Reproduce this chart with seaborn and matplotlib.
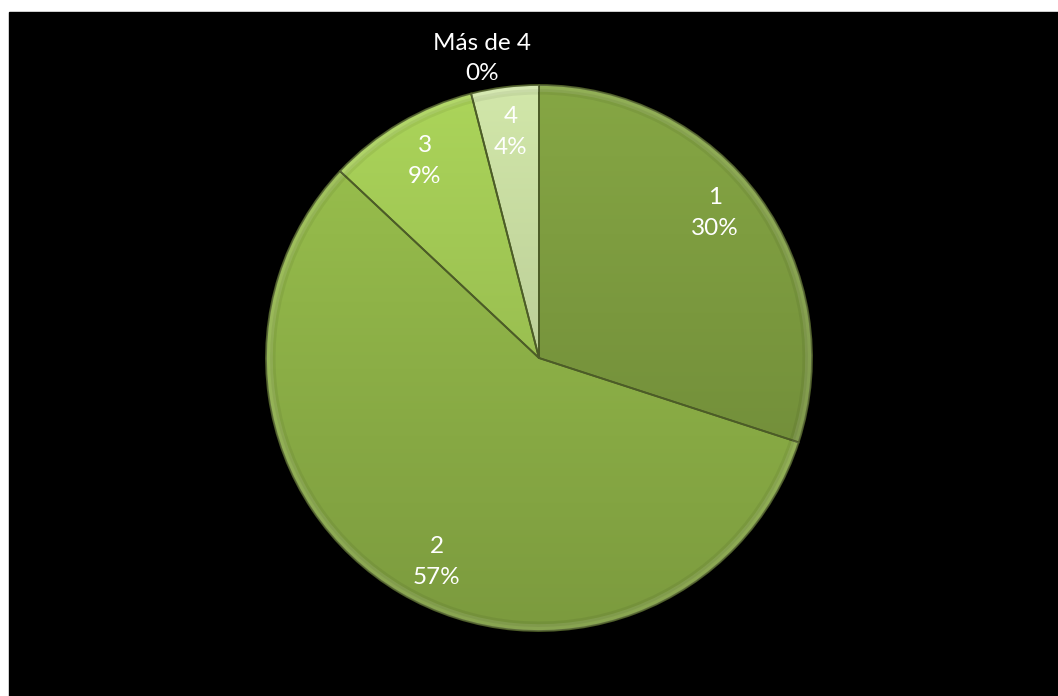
import numpy as np
import matplotlib
matplotlib.use("Agg")
import matplotlib.pyplot as plt
from matplotlib.patches import Rectangle, Wedge
from matplotlib.colors import to_rgb
import seaborn as sns

# Number of items per response
categories = ["1", "2", "3", "4", "Más de 4"]
shares = [30, 57, 9, 4, 0]
pct_labels = ["30%", "57%", "9%", "4%", "0%"]
slice_colors = ["#7E9D40", "#93B84A", "#A2C955", "#C6DAA0", "#D7E4BD"]
label_nudge_deg = [3.5, 4.0, -0.5, 0.0, 0.0]

sns.set_theme(style="white")
plt.rcParams["font.family"] = ["Lato", "DejaVu Sans"]

W, H = 1058, 696
fig = plt.figure(figsize=(W / 100, H / 100), dpi=100, facecolor="white")

# black panel behind the chart
fig.add_artist(Rectangle((9 / W, 0), (W - 9) / W, (H - 12) / H,
                         transform=fig.transFigure, color="black", zorder=0))

ax = fig.add_axes([0, 0, 1, 1])
ax.set_facecolor("none")

cx, cy, R = 539, H - 358, 273
wedges, _ = ax.pie(shares, colors=slice_colors, startangle=90, counterclock=False,
                   radius=1.0,
                   wedgeprops=dict(edgecolor="none", linewidth=0))

# vertical shading inside each slice: lighter at the top, darker at the bottom
ys = np.linspace(1, -1, 256)
shade = np.interp(ys, [-1, 1], [0.84, 1.06])
for w, col in zip(wedges, slice_colors):
    if w.theta2 - w.theta1 <= 0:
        continue
    rgb = np.clip(np.array(to_rgb(col))[None, :] * shade[:, None], 0, 1)
    img = np.repeat(rgb[:, None, :], 2, axis=1)
    im = ax.imshow(img, extent=(-1, 1, -1, 1), origin="upper", aspect="auto",
                   zorder=1.5, interpolation="bilinear")
    im.set_clip_path(w)

# slice borders and a soft bevel along the rim
for w in wedges:
    if w.theta2 - w.theta1 <= 0:
        continue
    ax.add_patch(Wedge((0, 0), 1.0, w.theta1, w.theta2, facecolor="none",
                       edgecolor="#4C5C27", linewidth=1.3, zorder=2))
    ax.add_patch(Wedge((0, 0), 1.0, w.theta1, w.theta2, width=0.025,
                       facecolor="white", alpha=0.10, edgecolor="none", zorder=2))
    ax.add_patch(Wedge((0, 0), 0.985, w.theta1, w.theta2, width=0.02,
                       facecolor="black", alpha=0.06, edgecolor="none", zorder=2))

ax.set_xlim(-cx / R, (W - cx) / R)
ax.set_ylim(-cy / R, (H - cy) / R)
ax.set_aspect("auto")
ax.axis("off")

for i, w in enumerate(wedges):
    mid = np.deg2rad((w.theta1 + w.theta2) / 2 + label_nudge_deg[i])
    if shares[i] == 0:
        ang = np.deg2rad(100.8)
        x, y = 1.117 * np.cos(ang), 1.117 * np.sin(ang)
    else:
        x, y = 0.835 * np.cos(mid), 0.835 * np.sin(mid)
    ax.text(x, y, f"{categories[i]}\n{pct_labels[i]}", ha="center", va="center",
            color="white", fontsize=17.5, linespacing=1.58, zorder=3)

fig.savefig("out.png", dpi=100, facecolor="white")
